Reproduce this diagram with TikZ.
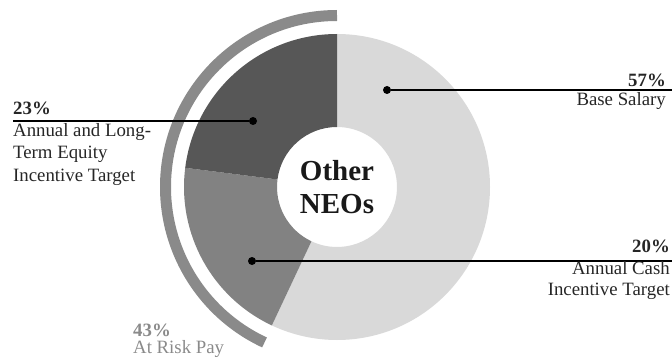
\documentclass[tikz,border=0pt]{standalone}
\usepackage{fontspec}
\setmainfont{Liberation Serif}
\usetikzlibrary{calc}
\definecolor{slicelight}{HTML}{D9D9D9}
\definecolor{slicemid}{HTML}{828282}
\definecolor{slicedark}{HTML}{575757}
\definecolor{riskgray}{HTML}{8A8A8A}
\begin{document}
\begin{tikzpicture}[x=1pt,y=1pt,
  dot/.style = {circle, fill=black, inner sep=0pt, minimum size=8pt},
  lbl/.style = {inner sep=0pt, font=\fontsize{18.8}{22}\selectfont, text=black!85},
  pct/.style = {inner sep=0pt, font=\fontsize{18.8}{22}\selectfont\bfseries, text=black!85},
  leader/.style = {draw=black, line width=1.8pt}]
\useasboundingbox (0,0) rectangle (672,362);
\coordinate (c) at (337,175);
% slices
\fill[slicelight] (c) ++(90:153) arc (90:-115.2:153) -- ($(c)+(-115.2:60)$) arc (-115.2:90:60) -- cycle;
\fill[slicemid] (c) ++(172.8:153) arc (172.8:244.8:153) -- ($(c)+(244.8:60)$) arc (244.8:172.8:60) -- cycle;
\fill[slicedark] (c) ++(90:153) arc (90:172.8:153) -- ($(c)+(172.8:60)$) arc (172.8:90:60) -- cycle;
% at risk arc
\draw[riskgray, line width=11pt] (c) ++(90:171.5) arc (90:245:171.5);
\node (ctr) [font=\fontsize{29}{33}\selectfont\bfseries, align=center, text=black!90] at (c) {Other\\NEOs};
% dots and leader ends
\node (d1) [dot] at (387,272) {};
\node (d2) [dot] at (253,241) {};
\node (d3) [dot] at (252,101) {};
\coordinate (e1) at (672,272);
\coordinate (e2) at (13,241);
\coordinate (e3) at (672,101);
\foreach \from/\to in {d1/e1, d2/e2, d3/e3}
\draw[leader] (\from) -- (\to);
% labels
\node (p1) [pct, anchor=base east] at (666,275) {57\%};
\node (t1) [lbl, anchor=base east] at (666,256) {Base Salary};
\node (p2) [pct, anchor=base west] at (13,247) {23\%};
\node (t2a) [lbl, anchor=base west] at (13,225) {Annual and Long-};
\node (t2b) [lbl, anchor=base west] at (13,203) {Term Equity};
\node (t2c) [lbl, anchor=base west] at (13,181) {Incentive Target};
\node (p3) [pct, anchor=base east] at (670,110) {20\%};
\node (t3a) [lbl, anchor=base east] at (670,88) {Annual Cash};
\node (t3b) [lbl, anchor=base east] at (670,67) {Incentive Target};
\node (p4) [pct, anchor=base west, text=riskgray] at (133,26) {43\%};
\node (t4) [lbl, anchor=base west, text=riskgray] at (133,9) {At Risk Pay};
\end{tikzpicture}
\end{document}
